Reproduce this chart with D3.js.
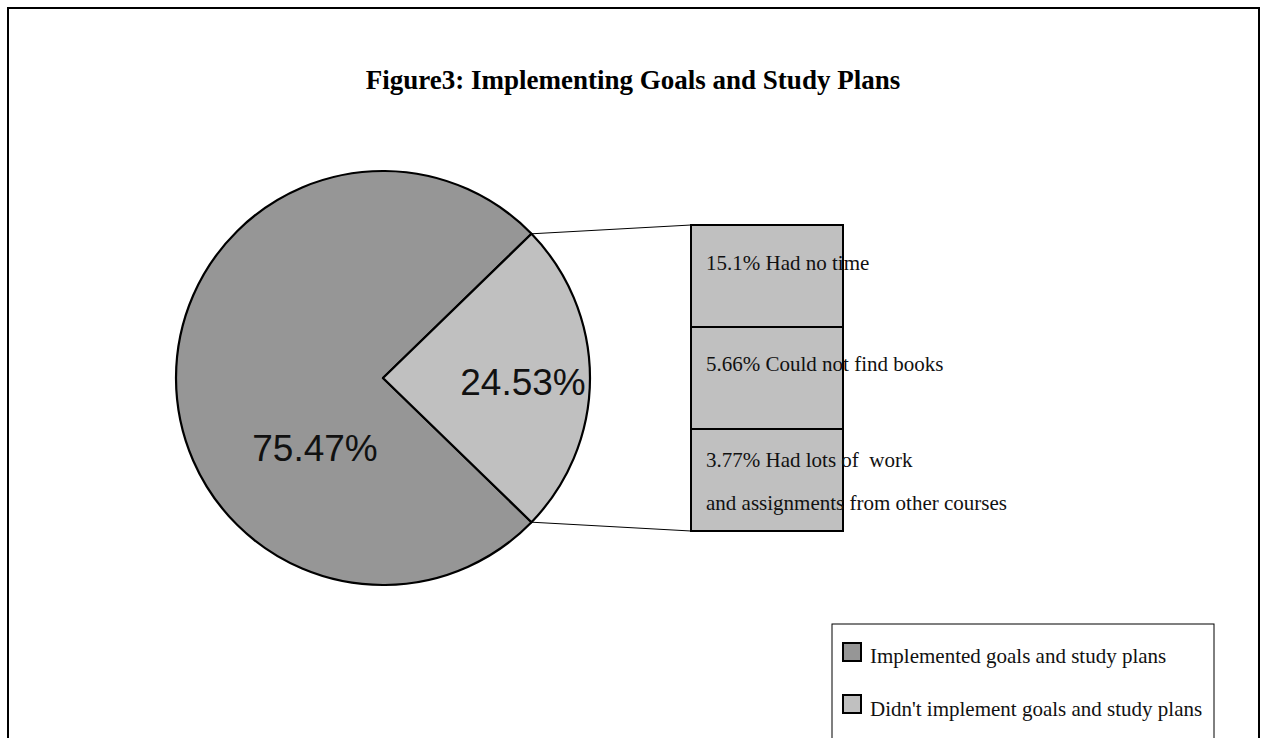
<!DOCTYPE html>
<html><head><meta charset="utf-8">
<script src="https://cdn.jsdelivr.net/npm/d3@7"></script>
<style>body{margin:0;background:#fff}svg{display:block}</style>
</head><body>
<svg id="c" width="1265" height="738"></svg>
<script>
const categories = ["Implemented goals and study plans", "Didn't implement goals and study plans"];
const values = [75.47, 24.53];
const pieLabels = ["75.47%", "24.53%"];
const colors = ["#969696", "#c0c0c0"];
const breakdownLabels = [["15.1% Had no time"], ["5.66% Could not find books"], ["3.77% Had lots of\u00a0 work", "and assignments from other courses"]];
const breakdownValues = [15.1, 5.66, 3.77];
const title = "Figure3: Implementing Goals and Study Plans";

const serif = "Liberation Serif, Times New Roman, serif";
const svg = d3.select("#c");
svg.append("rect").attr("x", 8).attr("y", 8).attr("width", 1251).attr("height", 760)
  .attr("fill", "#fff").attr("stroke", "#000").attr("stroke-width", 2);

svg.append("text").attr("x", 633).attr("y", 89).attr("text-anchor", "middle")
  .attr("font-family", serif).attr("font-weight", "bold")
  .attr("font-size", 27).text(title);

const cx = 383, cy = 378, r = 207;
const total = d3.sum(values);
const lightFrac = values[1] / total;
const start = Math.PI / 2 + Math.PI * lightFrac;
const pie = d3.pie().sort(null).startAngle(start).endAngle(start + 2 * Math.PI);
const arcs = pie(values);
const arc = d3.arc().innerRadius(0).outerRadius(r);
const g = svg.append("g").attr("transform", `translate(${cx},${cy})`);
g.selectAll("path").data(arcs).join("path").attr("d", arc)
  .attr("fill", (d, i) => colors[i]).attr("stroke", "#000").attr("stroke-width", 2.2).attr("stroke-linejoin", "round");

// labels
const labelPos = [[-68, 83], [140, 17]];
g.selectAll("text.pl").data(arcs).join("text").attr("class", "pl")
  .attr("x", (d, i) => labelPos[i][0]).attr("y", (d, i) => labelPos[i][1])
  .attr("text-anchor", "middle")
  .attr("font-family", "Liberation Sans, Arial, sans-serif").attr("font-size", 37)
  .attr("fill", "#111").text((d, i) => pieLabels[i]);

// breakdown bar
const bx = 691, bw = 152, by0 = 225, by1 = 531;
const y = d3.scaleBand().domain(breakdownValues.map((d, i) => i)).range([by0, by1]);
const bar = svg.append("g");
// connector lines
const la = arcs[1];
const pTop = [cx + r * Math.sin(la.startAngle), cy - r * Math.cos(la.startAngle)];
const pBot = [cx + r * Math.sin(la.endAngle), cy - r * Math.cos(la.endAngle)];
bar.append("line").attr("x1", pTop[0]).attr("y1", pTop[1]).attr("x2", bx).attr("y2", by0).attr("stroke", "#000").attr("stroke-width", 1);
bar.append("line").attr("x1", pBot[0]).attr("y1", pBot[1]).attr("x2", bx).attr("y2", by1).attr("stroke", "#000").attr("stroke-width", 1);
bar.selectAll("rect").data(breakdownValues).join("rect")
  .attr("x", bx).attr("y", (d, i) => y(i)).attr("width", bw).attr("height", y.bandwidth())
  .attr("fill", colors[1]).attr("stroke", "#000").attr("stroke-width", 2);
const baseOff = [[45], [44], [38, 81]];
const txt = bar.selectAll("text").data(breakdownLabels).join("text")
  .attr("font-family", serif).attr("font-size", 21).attr("fill", "#111");
txt.each(function (lines, i) {
  const t = d3.select(this);
  lines.forEach((l, j) => {
    t.append("tspan").attr("x", bx + 15).attr("y", y(i) + baseOff[i][j]).text(l);
  });
});

// legend
const lg = svg.append("g");
lg.append("rect").attr("x", 832).attr("y", 624).attr("width", 382).attr("height", 140)
  .attr("fill", "#fff").attr("stroke", "#000").attr("stroke-width", 1);
categories.forEach((c, i) => {
  lg.append("rect").attr("x", 843).attr("y", 643 + i * 52).attr("width", 18).attr("height", 18)
    .attr("fill", colors[i]).attr("stroke", "#000").attr("stroke-width", 2);
  lg.append("text").attr("x", 870).attr("y", 663 + i * 53)
    .attr("font-family", serif).attr("font-size", 21).attr("fill", "#111").text(c);
});
</script>
</body></html>
